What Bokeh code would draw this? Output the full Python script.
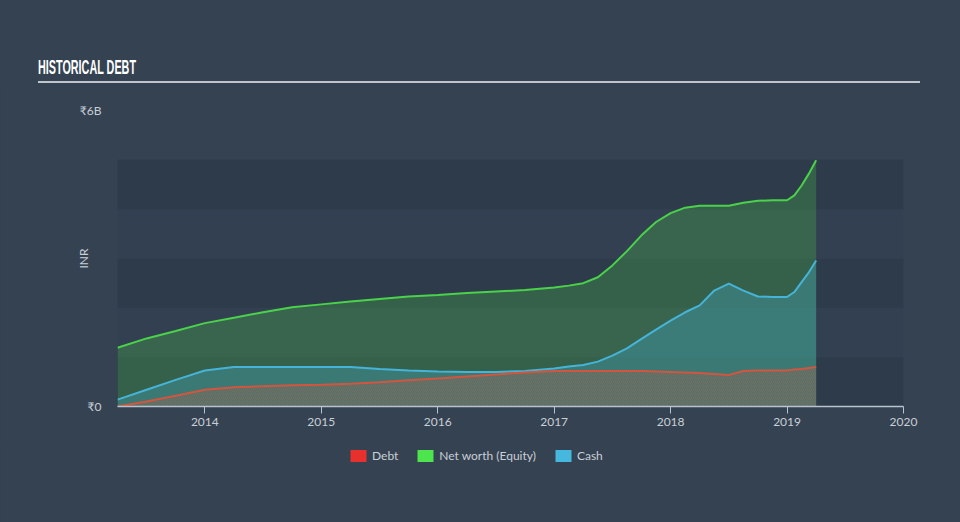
from bokeh.plotting import figure
from bokeh.models import (ColumnDataSource, FixedTicker, Legend, LegendItem,
                          BoxAnnotation, Div)
from bokeh.layouts import column
from bokeh.embed import file_html
from bokeh.resources import INLINE

# ---- data (INR billions) ----
period = [2013.25, 2013.5, 2013.75, 2014.0, 2014.25, 2014.5, 2014.75,
          2015.0, 2015.25, 2015.5, 2015.75, 2016.0, 2016.25, 2016.5,
          2016.75, 2017.0,
          2017.125, 2017.25, 2017.375, 2017.5, 2017.625, 2017.75, 2017.875,
          2018.0, 2018.125, 2018.25, 2018.375, 2018.5, 2018.625, 2018.75,
          2018.875,
          2019.0, 2019.0625, 2019.125, 2019.1875, 2019.25]
net_worth_b = [1.19, 1.38, 1.53, 1.69, 1.80, 1.91, 2.01, 2.07, 2.13, 2.18,
               2.23, 2.26, 2.30, 2.33, 2.36, 2.41,
               2.45, 2.50, 2.62, 2.86, 3.15, 3.47, 3.74, 3.92, 4.03, 4.07,
               4.07, 4.07, 4.13, 4.17, 4.18,
               4.18, 4.28, 4.48, 4.72, 4.99]
cash_b = [0.14, 0.34, 0.54, 0.73, 0.80, 0.80, 0.80, 0.80, 0.80, 0.76,
          0.73, 0.71, 0.70, 0.70, 0.72, 0.77,
          0.81, 0.84, 0.91, 1.03, 1.18, 1.37, 1.56, 1.74, 1.91, 2.05,
          2.35, 2.49, 2.35, 2.23, 2.22,
          2.22, 2.32, 2.52, 2.72, 2.96]
debt_b = [0.00, 0.10, 0.22, 0.34, 0.39, 0.41, 0.43, 0.44, 0.46, 0.49,
          0.53, 0.57, 0.61, 0.65, 0.69, 0.72,
          0.72, 0.72, 0.72, 0.72, 0.72, 0.72, 0.71, 0.70, 0.69, 0.68,
          0.66, 0.64, 0.72, 0.73, 0.73,
          0.73, 0.75, 0.76, 0.78, 0.80]
x_ticks = [2014, 2015, 2016, 2017, 2018, 2019, 2020]
y_ticks = [0, 6]
y_tick_labels = {0: "\u20b90", 6: "\u20b96B"}
series_names = ["Debt", "Net worth (Equity)", "Cash"]
title_text = "HISTORICAL DEBT"

src = ColumnDataSource(dict(t=period, nw=net_worth_b, cash=cash_b,
                            debt=debt_b, zero=[0] * len(period)))

BG = "#354252"
DARK = "#2e3b4a"
LIGHT = "#334051"
TXT = "#c9cfd6"
FONT = "Lato"

header = Div(
    text=(
        '<div style="position:relative;width:960px;height:84px;">'
        '<div style="position:absolute;left:38px;top:56px;'
        "font-family:'Liberation Sans';font-weight:bold;font-size:20px;"
        'color:#ffffff;white-space:nowrap;transform:scaleX(0.54);'
        'transform-origin:0 0;line-height:1.15;">' + title_text + '</div>'
        '<div style="position:absolute;left:38px;top:81px;width:882px;'
        'height:2px;background:#c0c6cd;"></div></div>'
    ),
    width=960, height=84,
    styles={"background-color": BG, "margin": "0", "padding": "0"},
)

p = figure(width=960, height=358, output_backend="svg", toolbar_location=None,
           x_range=(2013.25, 2020.0), y_range=(0, 6),
           min_border_left=117, min_border_right=57,
           min_border_top=26, min_border_bottom=36,
           border_fill_color=BG)
p.background_fill_color = None
p.outline_line_color = None
p.grid.visible = False

# background bands (0-5B), alternating
for i in range(5):
    col = DARK if i % 2 == 0 else LIGHT
    p.add_layout(BoxAnnotation(bottom=i, top=i + 1, left=2013.25, right=2020.0,
                               fill_color=col, fill_alpha=1, line_color=None,
                               level="underlay"))

nw_c, cash_c, debt_c = "#4ad24a", "#46b4d8", "#d2563f"

p.varea(x="t", y1="zero", y2="nw", source=src, fill_color=nw_c, fill_alpha=0.25)
p.varea(x="t", y1="zero", y2="cash", source=src, fill_color=cash_c, fill_alpha=0.3)
p.varea(x="t", y1="zero", y2="debt", source=src, fill_color=debt_c, fill_alpha=0.08,
        hatch_pattern="/", hatch_color=debt_c, hatch_alpha=0.45,
        hatch_scale=4, hatch_weight=1)
p.line(x="t", y="nw", source=src, line_color=nw_c, line_width=2)
p.line(x="t", y="cash", source=src, line_color=cash_c, line_width=2)
p.line(x="t", y="debt", source=src, line_color=debt_c, line_width=2)

# axes
xa = p.xaxis[0]
xa.ticker = FixedTicker(ticks=x_ticks)
xa.minor_tick_line_color = None
xa.major_tick_in = 0
xa.major_tick_out = 7
xa.axis_line_color = "#b9c3ce"
xa.major_tick_line_color = "#b9c3ce"
xa.axis_line_width = 1.5
xa.major_label_text_color = TXT
xa.major_label_text_font = FONT
xa.major_label_text_font_size = "12px"
xa.major_label_standoff = 4

ya = p.yaxis[0]
ya.ticker = FixedTicker(ticks=y_ticks)
ya.major_label_overrides = y_tick_labels
ya.axis_line_color = None
ya.major_tick_line_color = None
ya.minor_tick_line_color = None
ya.major_label_text_color = TXT
ya.major_label_text_font = FONT
ya.major_label_text_font_size = "12px"
ya.major_label_standoff = 10
ya.axis_label = "INR"
ya.axis_label_text_font = FONT
ya.axis_label_text_font_style = "normal"
ya.axis_label_text_font_size = "12px"
ya.axis_label_text_color = TXT
ya.axis_label_standoff = -14

# legend (own strip below the chart); swatches are zero-size placeholders
lg = figure(width=960, height=80, output_backend="svg", toolbar_location=None,
            x_range=(0, 1), y_range=(0, 1),
            x_axis_location=None, y_axis_location=None,
            min_border=0, border_fill_color=BG)
lg.background_fill_color = None
lg.outline_line_color = None
lg.grid.visible = False
swatch = dict(left=[0], right=[0], top=[0], bottom=[0], line_color=None)
r_debt = lg.quad(fill_color="#e8302c", **swatch)
r_nw = lg.quad(fill_color="#4de44d", **swatch)
r_cash = lg.quad(fill_color="#46b8e0", **swatch)
legend = Legend(items=[LegendItem(label=series_names[0], renderers=[r_debt]),
                       LegendItem(label=series_names[1], renderers=[r_nw]),
                       LegendItem(label=series_names[2], renderers=[r_cash])],
                orientation="horizontal", location=(231, 59),
                background_fill_alpha=0, border_line_color=None,
                label_text_color=TXT, label_text_font=FONT,
                label_text_font_size="12px", glyph_width=20, glyph_height=15,
                label_height=15, spacing=17, label_standoff=4, margin=0,
                padding=0)
lg.add_layout(legend)

layout = column(header, p, lg, spacing=0, styles={"background-color": BG})
open("out.html", "w").write(file_html(layout, INLINE))
